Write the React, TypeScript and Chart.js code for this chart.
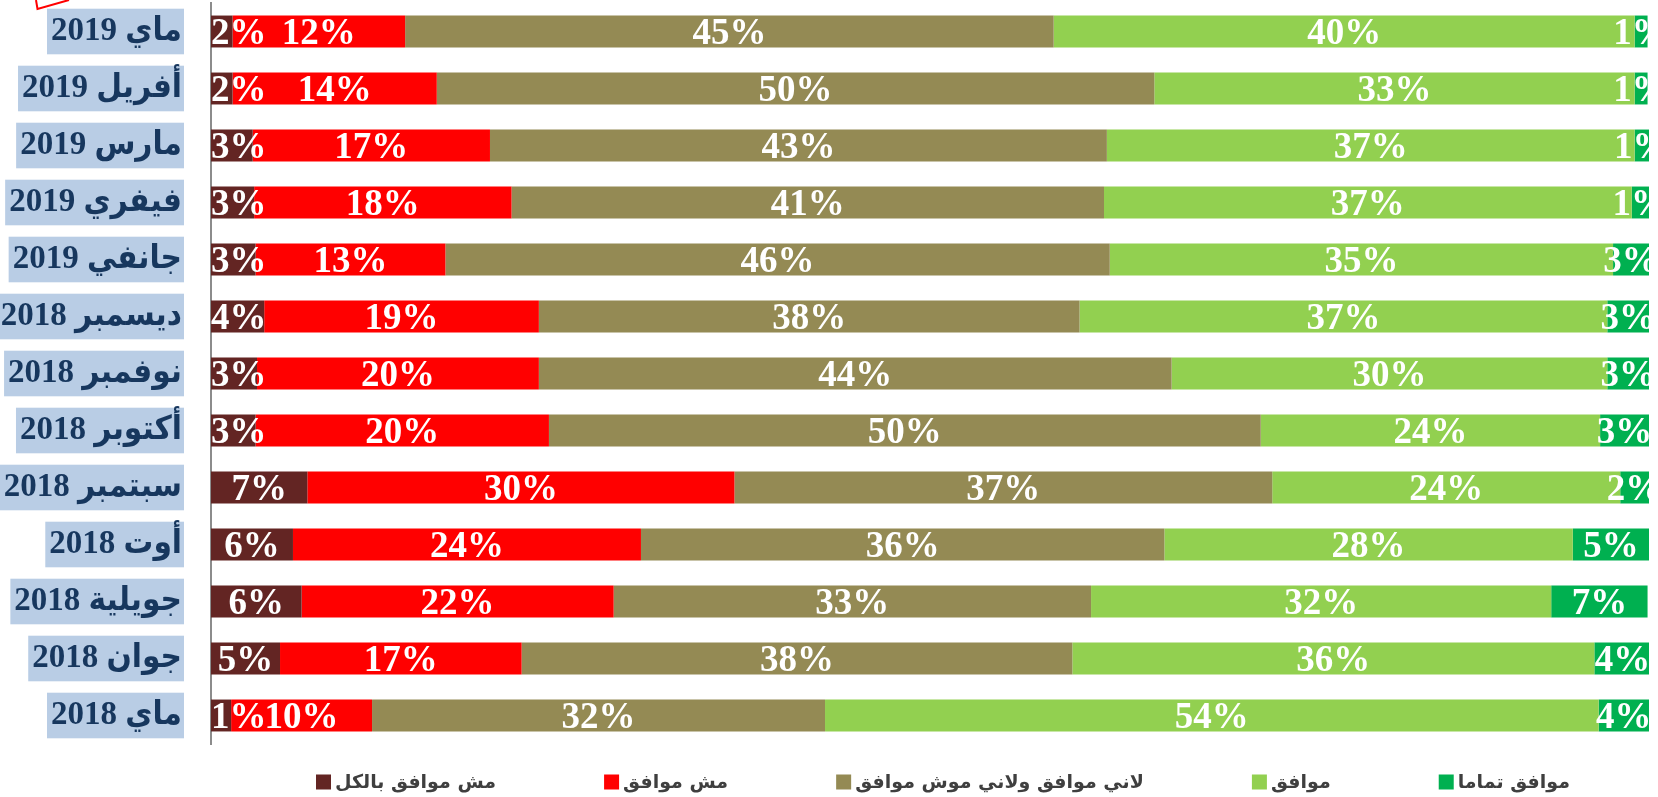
import React, { useEffect, useRef } from 'react';
import { Chart, registerables } from 'chart.js';

Chart.register(...registerables);

const categories = [
  'ماي 2019',
  'أفريل 2019',
  'مارس 2019',
  'فيفري 2019',
  'جانفي 2019',
  'ديسمبر 2018',
  'نوفمبر 2018',
  'أكتوبر 2018',
  'سبتمبر 2018',
  'أوت 2018',
  'جويلية 2018',
  'جوان 2018',
  'ماي 2018',
];

const seriesNames = [
  'مش موافق بالكل',
  'مش موافق',
  'لاني موافق ولاني موش موافق',
  'موافق',
  'موافق تماما',
];

const seriesColors = ['#632523', '#FF0000', '#948A54', '#92D050', '#00B050'];

const stronglyDisagree = [1.5, 1.5, 2.9, 3.0, 3.1, 3.7, 3.2, 3.1, 6.7, 5.7, 6.3, 4.8, 1.4];
const disagree = [12.0, 14.2, 16.5, 17.9, 13.2, 19.1, 19.6, 20.4, 29.7, 24.2, 21.7, 16.8, 9.8];
const neutral = [45.1, 49.9, 42.9, 41.2, 46.2, 37.6, 44.0, 49.5, 37.4, 36.4, 33.2, 38.3, 31.5];
const agree = [40.4, 33.4, 36.7, 36.7, 35.0, 36.7, 30.3, 23.6, 24.2, 28.4, 32.0, 36.3, 53.8];
const stronglyAgree = [0.9, 0.9, 1.0, 1.2, 2.5, 2.9, 2.9, 3.4, 2.0, 5.3, 6.7, 3.9, 3.5];

const seriesValues = [stronglyDisagree, disagree, neutral, agree, stronglyAgree];

const LABEL_FONT_SIZE = 37;

const segmentLabels = {
  id: 'segmentLabels',
  afterDatasetsDraw(chart: any) {
    const { ctx, chartArea } = chart;
    ctx.save();
    ctx.font = `bold ${LABEL_FONT_SIZE}px "Liberation Serif", "Times New Roman", serif`;
    ctx.fillStyle = '#FFFFFF';
    ctx.textBaseline = 'alphabetic';
    ctx.textAlign = 'left';
    chart.data.datasets.forEach((ds: any, di: number) => {
      const meta = chart.getDatasetMeta(di);
      meta.data.forEach((el: any, i: number) => {
        const v = ds.data[i] as number;
        const txt = Math.round(v) + '%';
        const p = el.getProps(['x', 'base', 'y', 'height'], true);
        const l = Math.min(p.x, p.base);
        const r = Math.max(p.x, p.base);
        const w = ctx.measureText(txt).width;
        let tx = (l + r) / 2 - w / 2;
        if (tx < chartArea.left) tx = chartArea.left;
        ctx.save();
        ctx.beginPath();
        ctx.rect(chartArea.left, p.y - p.height / 2, chartArea.right - chartArea.left, p.height);
        ctx.clip();
        ctx.fillText(txt, tx, p.y + 0.34 * LABEL_FONT_SIZE);
        ctx.restore();
      });
    });
    ctx.restore();
  },
};

const bottomLegend = {
  id: 'bottomLegend',
  afterDraw(chart: any) {
    const ctx = chart.ctx;
    ctx.save();
    ctx.font = 'bold 19px "DejaVu Sans", "Liberation Sans", sans-serif';
    const box = 15;
    const gap = 4;
    const widths = chart.data.datasets.map((ds: any) => box + gap + ctx.measureText(ds.label).width);
    const startX = 316;
    const endX = 1570;
    const total = widths.reduce((a: number, b: number) => a + b, 0);
    const spacing = (endX - startX - total) / (widths.length - 1);
    const cy = 782;
    let x = startX;
    chart.data.datasets.forEach((ds: any, i: number) => {
      ctx.fillStyle = ds.backgroundColor;
      ctx.fillRect(x, cy - box / 2, box, box);
      ctx.fillStyle = '#3F3F3F';
      ctx.textBaseline = 'middle';
      ctx.textAlign = 'left';
      ctx.fillText(ds.label, x + box + gap, cy + 1);
      x += widths[i] + spacing;
    });
    ctx.restore();
  },
};

const cornerMark = {
  id: 'cornerMark',
  afterDraw(chart: any) {
    const ctx = chart.ctx;
    ctx.save();
    ctx.strokeStyle = '#FF0000';
    ctx.lineWidth = 2;
    ctx.beginPath();
    ctx.moveTo(36, 0);
    ctx.lineTo(37.5, 9);
    ctx.lineTo(69, 0);
    ctx.stroke();
    ctx.restore();
  },
};

export default function App() {
  const ref = useRef<HTMLCanvasElement>(null);
  useEffect(() => {
    const canvas = ref.current;
    if (!canvas) return;
    const chart = new Chart(canvas, {
      type: 'bar',
      data: {
        labels: categories,
        datasets: seriesNames.map((name, i) => ({
          label: name,
          data: seriesValues[i],
          backgroundColor: seriesColors[i],
          borderWidth: 0,
          barPercentage: 0.56,
          categoryPercentage: 1,
        })),
      },
      options: {
        indexAxis: 'y',
        responsive: true,
        maintainAspectRatio: false,
        animation: false,
        layout: { padding: { top: 3, right: 9, bottom: 53, left: 0 } },
        plugins: {
          legend: { display: false },
          tooltip: { enabled: false },
        },
        scales: {
          x: { stacked: true, min: 0, max: 100, display: false },
          y: {
            stacked: true,
            grid: { display: false, drawTicks: false },
            border: { display: true, color: '#8C8C8C', width: 2 },
            ticks: {
              font: {
                family: '"Liberation Serif", "DejaVu Sans", serif',
                size: 33,
                weight: 'bold condensed',
              },
              color: '#17375E',
              padding: 29,
              showLabelBackdrop: true,
              backdropColor: '#B9CDE5',
              backdropPadding: { top: 3, bottom: 3, left: 4, right: 2 },
            },
            afterFit: (scale: any) => {
              scale.width = 211;
              scale.paddingTop = 0;
              scale.paddingBottom = 0;
            },
          },
        },
      } as any,
      plugins: [segmentLabels, bottomLegend, cornerMark],
    });
    return () => chart.destroy();
  }, []);
  return (
    <div style={{ position: 'fixed', left: 0, top: 0, width: 1658, height: 797, background: '#FFFFFF' }}>
      <canvas ref={ref} />
    </div>
  );
}
